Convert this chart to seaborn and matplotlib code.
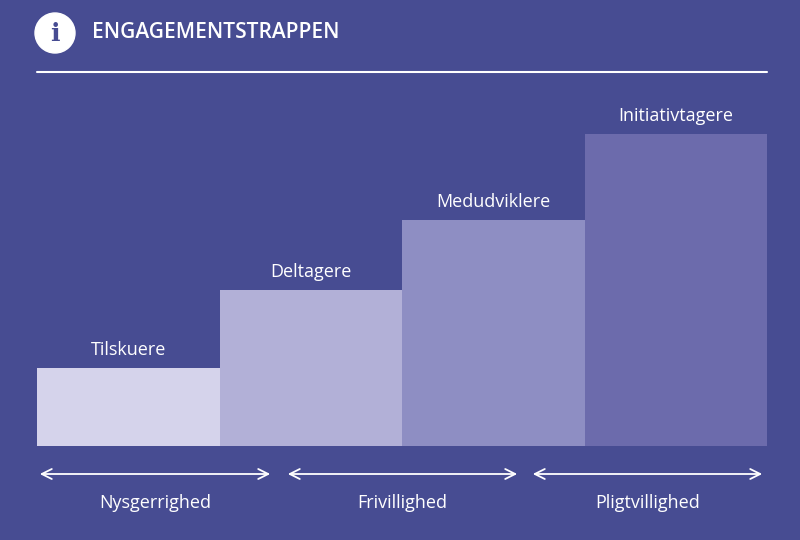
import matplotlib
matplotlib.use("Agg")
import matplotlib.pyplot as plt
import seaborn as sns
import pandas as pd
from matplotlib.patches import Circle

categories = ["Tilskuere", "Deltagere", "Medudviklere", "Initiativtagere"]
values = [1.0, 2.0, 2.9, 4.0]
groups = ["Nysgerrighed", "Frivillighed", "Pligtvillighed"]
colors = ["#d5d3eb", "#b2b0d7", "#8e8ec3", "#6c6bac"]
bg = "#474c92"

sns.set_theme(style="white")
plt.rcParams['font.family'] = ['Open Sans', 'DejaVu Sans']

W, H = 800, 540
fig = plt.figure(figsize=(8, 5.4), dpi=100, facecolor=bg)

base = 446; top4 = 134
ax = fig.add_axes([37/W, (H-base)/H, 730/W, (base-top4)/H])
ax.set_facecolor(bg)
df = pd.DataFrame({"cat": categories, "val": values})
sns.barplot(data=df, x="cat", y="val", hue="cat", palette=colors, width=1.0,
            legend=False, ax=ax, saturation=1, linewidth=0)
ax.set_ylim(0, 4)
ax.set_xlim(-0.5, 3.5)
for i, (c, v) in enumerate(zip(categories, values)):
    ax.text(i, v + 0.11, c, ha="center", va="bottom", color="white", fontsize=13)
ax.axis("off")

ov = fig.add_axes([0, 0, 1, 1])
ov.set_xlim(0, W); ov.set_ylim(H, 0)
ov.axis("off")
ov.patch.set_alpha(0)
ov.add_patch(Circle((55, 33), 20, color="white"))
ov.text(55, 34, "i", ha="center", va="center", color=bg, fontsize=18,
        fontweight="bold", family="DejaVu Serif")
ov.text(92, 33, "ENGAGEMENTSTRAPPEN", ha="left", va="center", color="white",
        fontsize=15, fontweight="semibold")
ov.plot([37, 767], [72, 72], color="white", lw=1.5)

segs = [(37, 273), (285, 520), (530, 765)]
for (a, b), g in zip(segs, groups):
    ov.annotate("", xy=(a, 474), xytext=(b, 474),
                arrowprops=dict(arrowstyle="<->", color="white", lw=1.3,
                                mutation_scale=18))
    ov.text((a + b) / 2, 503, g, ha="center", va="center", color="white", fontsize=13)

fig.savefig("out.png", dpi=100, facecolor=bg)
